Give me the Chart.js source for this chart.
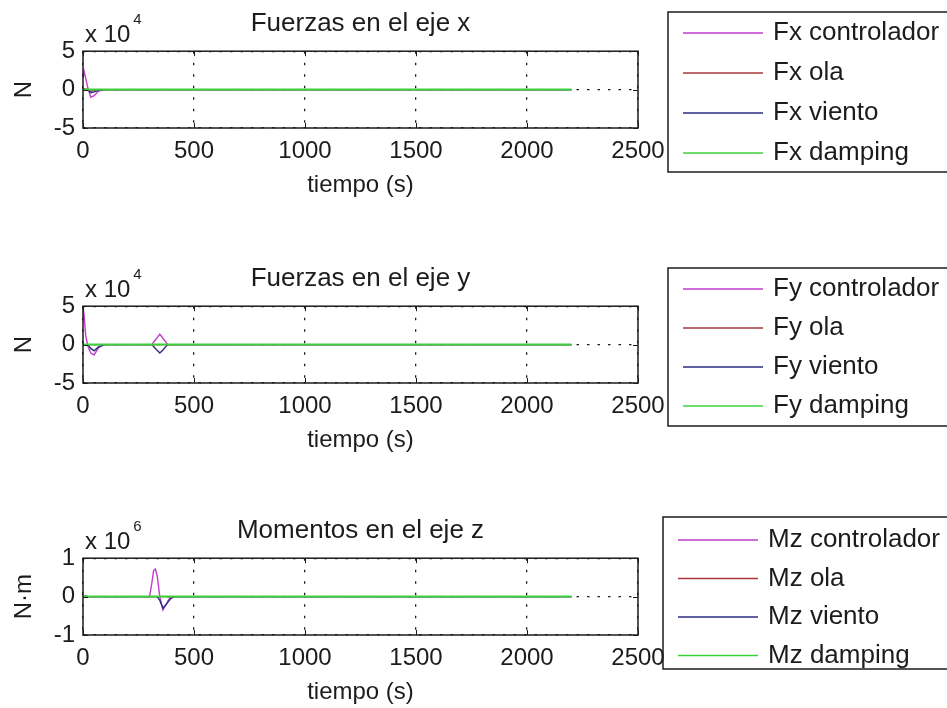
<!DOCTYPE html>
<html>
<head>
<meta charset="utf-8">
<script src="https://cdn.jsdelivr.net/npm/chart.js@4.4.1/dist/chart.umd.min.js"></script>
<style>
    html, body { margin: 0; padding: 0; background: #fff; }
    body { width: 947px; height: 708px; position: relative; overflow: hidden; }
    canvas { position: absolute; left: 0; }
</style>
</head>
<body>
<canvas id="c1" width="947" height="200" style="top:0px"></canvas>
<canvas id="c2" width="947" height="200" style="top:255px"></canvas>
<canvas id="c3" width="947" height="200" style="top:507px"></canvas>
<script>
// ---- Data (fuerzas en unidades de 1e4 N, momentos en 1e6 N·m) ----
const tiempo = [0, 5, 12, 22, 35, 50, 70, 95, 300, 310, 318, 326, 334, 346, 360, 375, 382, 395, 410, 2200];
const ticksTiempo = [0, 500, 1000, 1500, 2000, 2500];

const fxControlador = [1.5, 2.4, 1.5, 0.2, -1.0, -0.8, -0.2, 0, 0, 0, 0, 0, 0, 0, 0, 0, 0, 0, 0, 0];
const fxOla         = [0, 0.1, 0.1, 0, -0.2, -0.1, 0, 0, 0, 0, 0, 0, 0, 0, 0, 0, 0, 0, 0, 0];
const fxViento      = [0, 0, 0, 0, -0.4, -0.3, -0.1, 0, 0, 0, 0, 0, 0, 0, 0, 0, 0, 0, 0, 0];
const fxDamping     = [0, 0, 0, 0, 0, 0, 0, 0, 0, 0, 0, 0, 0, 0, 0, 0, 0, 0, 0, 0];

const fyControlador = [5.0, 3.8, 1.2, -0.2, -1.1, -1.35, -0.4, 0, 0, 0, 0.3, 0.6, 0.9, 1.35, 0.83, 0.26, 0, 0, 0, 0];
const fyOla         = [0, 0, 0, 0, 0, 0, 0, 0, 0, 0, 0, 0, 0, 0, 0, 0, 0, 0, 0, 0];
const fyViento      = [0, 0, 0, 0, -0.5, -0.8, -0.3, 0, 0, 0, -0.25, -0.5, -0.75, -1.1, -0.7, -0.2, 0, 0, 0, 0];
const fyDamping     = [0, 0, 0, 0, 0, 0, 0, 0, 0, 0, 0, 0, 0, 0, 0, 0, 0, 0, 0, 0];

const mzControlador = [0, 0, 0.03, 0, 0, 0, 0, 0, 0, 0.35, 0.68, 0.72, 0.55, 0, -0.35, -0.2, -0.12, 0, 0, 0];
const mzOla         = [0, 0, 0, 0, 0, 0, 0, 0, 0, 0, 0, 0, 0, 0, 0, 0, 0, 0, 0, 0];
const mzViento      = [0, 0, 0, 0, 0, 0, 0, 0, 0, 0, 0, 0, 0, -0.1, -0.3, -0.2, -0.15, -0.05, 0, 0];
const mzDamping     = [0, 0, 0, 0, 0, 0, 0, 0, 0, 0, 0, 0, 0, 0, 0, 0, 0, 0, 0, 0];

const colores = ['#c23ccc', '#a8383c', '#2c2c80', '#3cd23c'];
const FONT = '"Liberation Sans", Arial, sans-serif';
const INK = '#1c1c1c';

// ---- marco estilo MATLAB: caja, ticks hacia dentro, exponente y leyenda ----
const matlabFrame = {
    id: 'matlabFrame',
    afterDraw(chart, args, opts) {
        const { ctx, chartArea: a, scales: { x, y } } = chart;
        const line = (x1, y1, x2, y2) => { ctx.beginPath(); ctx.moveTo(x1, y1); ctx.lineTo(x2, y2); ctx.stroke(); };
        ctx.save();
        ctx.strokeStyle = INK;
        ctx.lineWidth = 1;
        x.ticks.forEach(t => {
            const px = Math.round(x.getPixelForValue(t.value)) + 0.5;
            line(px, a.bottom, px, a.bottom - 5);
            line(px, a.top, px, a.top + 5);
        });
        y.ticks.forEach(t => {
            const py = Math.round(y.getPixelForValue(t.value)) + 0.5;
            line(a.left, py, a.left + 5, py);
            line(a.right, py, a.right - 5, py);
        });
        ctx.lineWidth = 1.5;
        ctx.strokeRect(a.left, a.top, a.right - a.left, a.bottom - a.top);

        // exponente
        ctx.fillStyle = INK;
        ctx.textBaseline = 'alphabetic';
        ctx.font = `24px ${FONT}`;
        ctx.fillText('x 10', a.left + 2, a.top - 9);
        const w = ctx.measureText('x 10').width;
        ctx.font = `15px ${FONT}`;
        ctx.fillText(opts.exponent, a.left + 2 + w + 3, a.top - 27);

        // leyenda
        const L = opts.legend;
        ctx.lineWidth = 1.5;
        ctx.strokeStyle = INK;
        ctx.strokeRect(L.left, L.top, 400, L.height);
        ctx.font = `26px ${FONT}`;
        ctx.textBaseline = 'middle';
        chart.data.datasets.forEach((ds, i) => {
            const yy = L.top + L.offset + i * L.pitch;
            ctx.strokeStyle = ds.borderColor;
            ctx.lineWidth = 1.5;
            line(L.left + 15, yy, L.left + 95, yy);
            ctx.fillStyle = INK;
            ctx.fillText(ds.label, L.left + 105, yy);
        });
        ctx.restore();
    }
};

function crearGrafica(id, titulo, etiquetaY, exponente, series, nombres, yMax, leyenda) {
    const datasets = series.map((vals, i) => ({
        label: nombres[i],
        data: tiempo.map((t, k) => ({ x: t, y: vals[k] })),
        borderColor: colores[i],
        borderWidth: i === 3 ? 2 : 1.4,
        pointRadius: 0,
        tension: 0,
        fill: false,
        order: 3 - i
    }));
    const tickFont = { family: FONT, size: 24 };
    return new Chart(document.getElementById(id), {
        type: 'line',
        data: { datasets },
        options: {
            responsive: false,
            animation: false,
            layout: { padding: { left: 0, right: 309, top: 0, bottom: 0 } },
            plugins: {
                legend: { display: false },
                tooltip: { enabled: false },
                title: {
                    display: true, text: titulo, color: INK, fullSize: false,
                    font: { family: FONT, size: 26, weight: 'normal' },
                    padding: { top: 8, bottom: 12 }
                },
                matlabFrame: { exponent: exponente, legend: leyenda }
            },
            scales: {
                x: {
                    type: 'linear', min: 0, max: 2500,
                    afterBuildTicks: s => { s.ticks = ticksTiempo.map(v => ({ value: v })); },
                    ticks: { color: INK, font: tickFont, padding: 9, maxRotation: 0, autoSkip: false, callback: v => String(v) },
                    grid: { color: INK, lineWidth: 1.3, drawTicks: false },
                    border: { display: false, dash: [2.5, 9] },
                    title: { display: true, text: 'tiempo (s)', color: INK, font: tickFont, padding: 0 },
                    afterFit: s => { s.height = 72; }
                },
                y: {
                    min: -yMax, max: yMax,
                    ticks: { stepSize: yMax, color: INK, font: tickFont, padding: 8, callback: v => String(v) },
                    grid: { color: INK, lineWidth: 1.3, drawTicks: false },
                    border: { display: false, dash: [2.5, 8] },
                    title: { display: true, text: etiquetaY, color: INK, font: tickFont, padding: { top: 10, bottom: 0 } },
                    afterFit: s => { s.width = 83; }
                }
            }
        },
        plugins: [matlabFrame]
    });
}

crearGrafica('c1', 'Fuerzas en el eje x', 'N', '4',
    [fxControlador, fxOla, fxViento, fxDamping],
    ['Fx controlador', 'Fx ola', 'Fx viento', 'Fx damping'], 5,
    { left: 668, top: 12, height: 160, offset: 21, pitch: 40 });

crearGrafica('c2', 'Fuerzas en el eje y', 'N', '4',
    [fyControlador, fyOla, fyViento, fyDamping],
    ['Fy controlador', 'Fy ola', 'Fy viento', 'Fy damping'], 5,
    { left: 668, top: 13, height: 158, offset: 21, pitch: 39 });

crearGrafica('c3', 'Momentos en el eje z', 'N·m', '6',
    [mzControlador, mzOla, mzViento, mzDamping],
    ['Mz controlador', 'Mz ola', 'Mz viento', 'Mz damping'], 1,
    { left: 663, top: 10, height: 152, offset: 23, pitch: 38.5 });
</script>
</body>
</html>
